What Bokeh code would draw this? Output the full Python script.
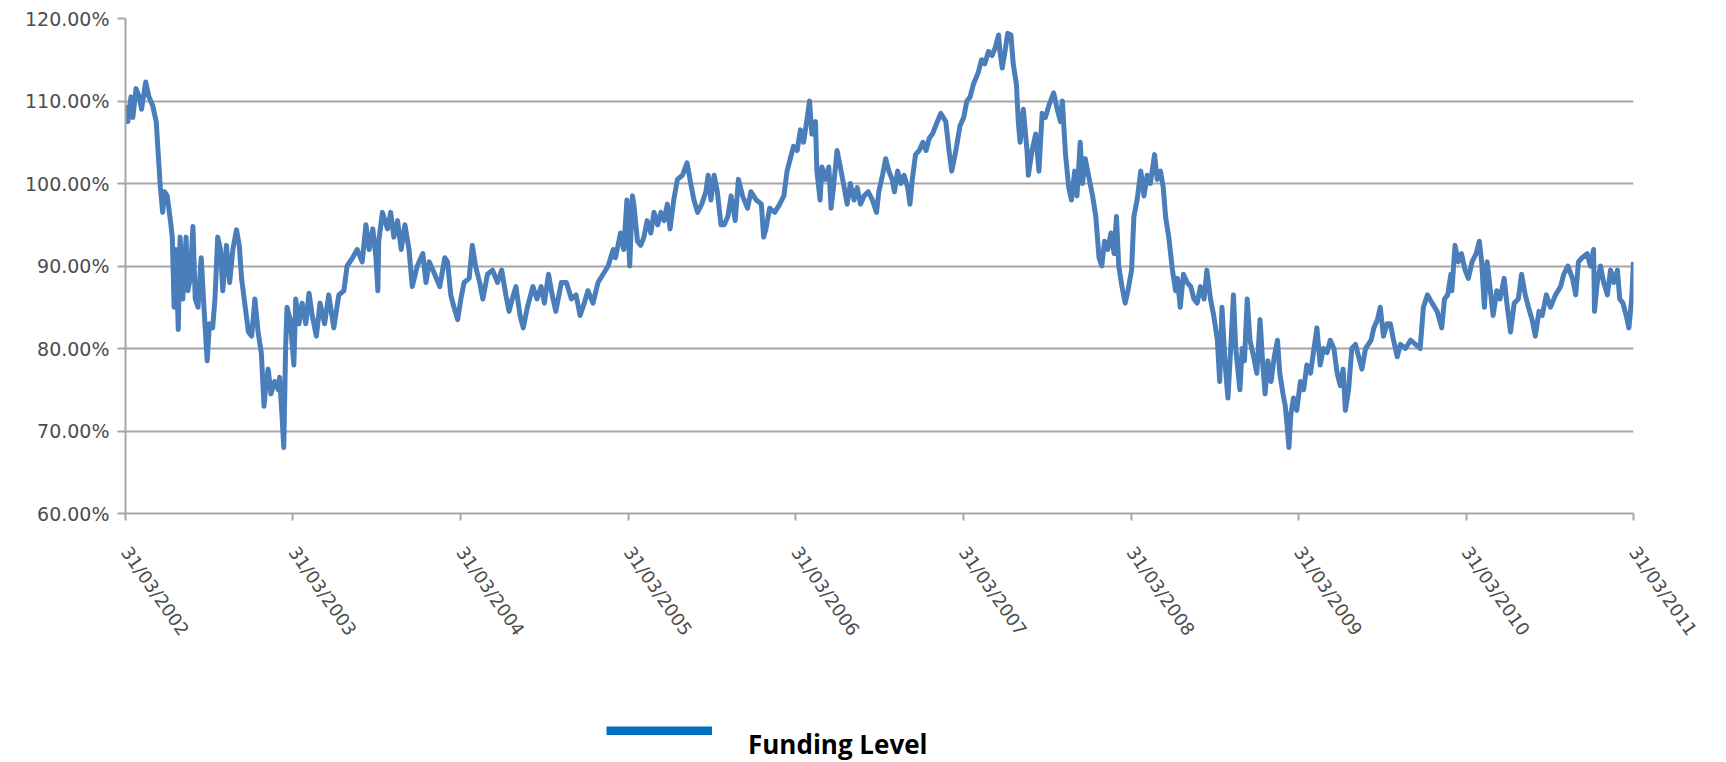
import pandas as pd
from bokeh.plotting import figure
from bokeh.layouts import column
from bokeh.models import (Range1d, FixedTicker, DatetimeTickFormatter, CustomJSTickFormatter,
                          Legend, LegendItem, ColumnDataSource)
from bokeh.embed import file_html
from bokeh.resources import INLINE

# ---- data ----
d2002 = ["2002-03-31","2002-04-05","2002-04-12","2002-04-16","2002-04-23","2002-04-30","2002-05-05","2002-05-14",
         "2002-05-21","2002-05-29","2002-06-06","2002-06-11","2002-06-15","2002-06-20","2002-06-24","2002-06-30",
         "2002-07-08","2002-07-11","2002-07-15","2002-07-19","2002-07-24","2002-07-28","2002-08-03","2002-08-10",
         "2002-08-14","2002-08-19","2002-08-25","2002-08-30","2002-09-05","2002-09-12","2002-09-18","2002-09-25",
         "2002-09-30","2002-10-07","2002-10-12","2002-10-18","2002-10-24","2002-10-29","2002-11-06","2002-11-13",
         "2002-11-20","2002-11-28","2002-12-04","2002-12-09","2002-12-17","2002-12-24","2002-12-31"]
v2002 = [109.5,107.5,110.5,108,111.5,110.5,109,112.3,
         110.5,109.5,107.5,103,99.5,96.5,99,98.5,
         95,93.5,85,92,82.3,93.5,86,93.5,
         87,88.5,94.8,86,85,91,85,78.5,
         83,82.5,86,93.5,92,87,92.5,88,
         92,94.4,92.5,88.5,85,82,81.5]

d2003 = ["2003-01-07","2003-01-14","2003-01-21","2003-01-27","2003-01-30","2003-02-05","2003-02-11","2003-02-19",
         "2003-02-27","2003-03-02","2003-03-07","2003-03-11","2003-03-15","2003-03-18","2003-03-25","2003-04-02",
         "2003-04-06","2003-04-13","2003-04-20","2003-04-28","2003-05-05","2003-05-12","2003-05-21","2003-05-29",
         "2003-06-08","2003-06-17","2003-06-28","2003-07-09","2003-07-20","2003-07-27","2003-08-08","2003-08-18",
         "2003-08-29","2003-09-06","2003-09-13","2003-09-21","2003-09-28","2003-10-02","2003-10-04","2003-10-12",
         "2003-10-23","2003-10-30","2003-11-06","2003-11-14","2003-11-22","2003-11-30","2003-12-09","2003-12-16",
         "2003-12-27"]
v2003 = [86,82,79.5,73,75,77.5,74.5,76,
         75,76.5,72,68,80,85,83.5,78,
         86,83,85.5,83,86.7,84,81.5,85.5,
         83,86.5,82.5,86.5,87,90,91,92,
         90.5,95,92,94.5,91,87,93,96.5,
         94.5,96.5,93.5,95.5,92,95,92,87.5,
         90]

d2004 = ["2004-01-08","2004-01-15","2004-01-22","2004-02-03","2004-02-14","2004-02-25","2004-03-02","2004-03-09",
         "2004-03-16","2004-03-24","2004-03-31","2004-04-07","2004-04-18","2004-04-25","2004-05-02","2004-05-11",
         "2004-05-18","2004-05-28","2004-06-08","2004-06-19","2004-06-28","2004-07-07","2004-07-14","2004-07-21",
         "2004-07-29","2004-08-07","2004-08-14","2004-08-23","2004-09-04","2004-09-13","2004-09-22","2004-09-29",
         "2004-10-08","2004-10-16","2004-10-24","2004-11-05","2004-11-16","2004-11-27","2004-12-07","2004-12-16",
         "2004-12-25"]
v2004 = [91.5,88,90.5,89,87.5,91,90.5,86.5,
         85,83.5,86,88,88.5,92.5,90,88,
         86,89,89.5,88,89.5,86.5,84.5,86,
         87.5,84,82.5,85,87.5,86,87.5,85.5,
         89,86.5,84.5,88,88,86,86.5,84,
         85.5]

d2005 = ["2005-01-02","2005-01-13","2005-01-24","2005-02-04","2005-02-15","2005-02-26","2005-03-03","2005-03-14",
         "2005-03-21","2005-03-28","2005-04-03","2005-04-09","2005-04-12","2005-04-20","2005-04-27","2005-05-04",
         "2005-05-11","2005-05-19","2005-05-26","2005-06-03","2005-06-10","2005-06-17","2005-06-24","2005-06-30",
         "2005-07-08","2005-07-16","2005-07-27","2005-08-06","2005-08-14","2005-08-21","2005-08-29","2005-09-07",
         "2005-09-16","2005-09-21","2005-09-27","2005-10-04","2005-10-11","2005-10-19","2005-10-26","2005-11-03",
         "2005-11-10","2005-11-19","2005-11-26","2005-12-05","2005-12-16","2005-12-23"]
v2005 = [87,85.5,88,89,90,92,91,94,
         92,98,90,98.5,97.5,93,92.5,93.5,
         95.5,94,96.5,95,96.5,95.5,97.5,94.5,
         98,100.5,101,102.5,100,98,96.5,97.5,
         99,101,98,101,99,95,95,96,
         98.5,95.5,100.5,98.5,97,99]

d2006 = ["2006-01-04","2006-01-15","2006-01-20","2006-01-25","2006-02-02","2006-02-13","2006-02-24","2006-03-05",
         "2006-03-12","2006-03-19","2006-03-26","2006-04-03","2006-04-10","2006-04-17","2006-04-25","2006-04-30",
         "2006-05-05","2006-05-13","2006-05-16","2006-05-23","2006-05-27","2006-06-04","2006-06-11","2006-06-16",
         "2006-06-22","2006-06-29","2006-07-06","2006-07-13","2006-07-21","2006-07-28","2006-08-05","2006-08-12",
         "2006-08-19","2006-08-27","2006-09-05","2006-09-14","2006-09-23","2006-09-28","2006-10-06","2006-10-13",
         "2006-10-20","2006-10-27","2006-11-01","2006-11-08","2006-11-15","2006-11-22","2006-11-30","2006-12-05",
         "2006-12-10","2006-12-17","2006-12-25"]
v2006 = [98,97.5,93.5,94.5,97,96.5,97.5,98.5,
         101.5,103,104.5,104,106.5,105,108,110,
         106,107.5,101.5,98,102,100.5,102,97,
         100,104,102,100,97.5,100,98,99.5,
         97.5,98.5,99,98,96.5,99,101,103,
         101.5,100.5,99,101.5,100,101,99.5,97.5,
         100.5,103.5,104]

d2007 = ["2007-01-02","2007-01-09","2007-01-16","2007-01-23","2007-01-30","2007-02-10","2007-02-21","2007-02-28",
         "2007-03-06","2007-03-15","2007-03-24","2007-04-01","2007-04-08","2007-04-15","2007-04-22","2007-05-03",
         "2007-05-10","2007-05-17","2007-05-25","2007-06-02","2007-06-09","2007-06-16","2007-06-19","2007-06-24",
         "2007-06-30","2007-07-06","2007-07-13","2007-07-18","2007-07-25","2007-07-29","2007-08-02","2007-08-09",
         "2007-08-17","2007-08-20","2007-08-28","2007-09-05","2007-09-12","2007-09-19","2007-09-26","2007-10-04",
         "2007-10-14","2007-10-22","2007-10-29","2007-11-02","2007-11-09","2007-11-16","2007-11-22","2007-11-29",
         "2007-12-04","2007-12-11","2007-12-16","2007-12-22","2007-12-29"]
v2007 = [105,104,105.5,106,107,108.5,107.5,104,
         101.5,104,107,108,110,110.5,112,113.5,
         115,114.5,116,115.5,116.5,118,116,114,
         116,118.2,118,114.5,112,107.5,105,109,
         104,101,104,106,101.5,108.5,108,109.5,
         111,109,107.5,110,103.5,99.5,98,101.5,
         98.5,105,100,103,101]

d2008 = ["2008-01-07","2008-01-14","2008-01-21","2008-01-27","2008-02-02","2008-02-09","2008-02-16","2008-02-23",
         "2008-02-28","2008-03-04","2008-03-11","2008-03-18","2008-03-24","2008-04-01","2008-04-06","2008-04-13",
         "2008-04-21","2008-04-28","2008-05-05","2008-05-12","2008-05-21","2008-05-27","2008-06-03","2008-06-09",
         "2008-06-14","2008-06-21","2008-06-29","2008-07-06","2008-07-10","2008-07-16","2008-07-23","2008-07-31",
         "2008-08-08","2008-08-15","2008-08-22","2008-08-29","2008-09-06","2008-09-12","2008-09-20","2008-09-27",
         "2008-10-05","2008-10-10","2008-10-15","2008-10-22","2008-10-28","2008-11-03","2008-11-09","2008-11-14",
         "2008-11-23","2008-11-28","2008-12-03","2008-12-09","2008-12-15","2008-12-23","2008-12-30"]
v2008 = [98.5,96,91,90,93,92,94,91.5,
         96,90,87.5,85.5,87,89.5,96,98,
         101.5,98.5,101,100,103.5,100.5,101.5,99.5,
         96,93.5,89.5,87,88.5,85,89,88,
         87.5,86,85.5,87.5,86,89.5,86,84,
         81,76,85,78,74,80,86.5,80,
         75,80,78.5,86,81,79,77]

d2009 = ["2009-01-06","2009-01-12","2009-01-17","2009-01-23","2009-01-30","2009-02-06","2009-02-13","2009-02-18",
         "2009-02-25","2009-03-02","2009-03-07","2009-03-10","2009-03-14","2009-03-20","2009-03-27","2009-04-04",
         "2009-04-11","2009-04-18","2009-04-26","2009-05-01","2009-05-10","2009-05-17","2009-05-24","2009-06-01",
         "2009-06-08","2009-06-16","2009-06-23","2009-06-30","2009-07-06","2009-07-11","2009-07-18","2009-07-25",
         "2009-08-02","2009-08-09","2009-08-16","2009-08-24","2009-09-05","2009-09-11","2009-09-19","2009-09-25",
         "2009-10-02","2009-10-10","2009-10-17","2009-10-24","2009-11-01","2009-11-08","2009-11-19","2009-11-30",
         "2009-12-11","2009-12-21","2009-12-28"]
v2009 = [83.5,78,74.5,78.5,76,79,81,77,
         74.5,73,70,68,72,74,72.5,76,
         75,78,77,79,82.5,78,80,79.5,
         81,80,77,75.5,77.5,72.5,75,80,
         80.5,79,77.5,80,81,82.5,83.5,85,
         81.5,83,83,81,79,80.5,80,81,
         80.5,80,85]

d2010 = ["2010-01-06","2010-01-16","2010-01-27","2010-02-06","2010-02-12","2010-02-19","2010-02-26","2010-02-28",
         "2010-03-07","2010-03-14","2010-03-21","2010-03-29","2010-04-05","2010-04-13","2010-04-22","2010-04-29",
         "2010-05-04","2010-05-10","2010-05-16","2010-05-22","2010-05-29","2010-06-06","2010-06-13","2010-06-22",
         "2010-06-29","2010-07-06","2010-07-14","2010-07-23","2010-07-30","2010-08-07","2010-08-14","2010-08-22",
         "2010-08-29","2010-09-06","2010-09-13","2010-09-22","2010-10-01","2010-10-12","2010-10-23","2010-10-30",
         "2010-11-08","2010-11-18","2010-11-25","2010-12-01","2010-12-09","2010-12-20","2010-12-27"]
v2010 = [86.5,85.5,84.5,82.5,86,86.5,89,87,
         92.5,90.5,91.5,89.5,88.5,90.5,91.5,93,
         90.5,85,90.5,87.5,84,87,86,88.5,
         85,82,85.5,86,89,86.5,85,83.5,
         81.5,84.5,84,86.5,85,86.5,87.5,89,
         90,88.5,86.5,90.5,91,91.5,90]

d2011 = ["2011-01-03","2011-01-05","2011-01-11","2011-01-18","2011-01-25","2011-02-02","2011-02-09","2011-02-16",
         "2011-02-24","2011-03-01","2011-03-08","2011-03-15","2011-03-21","2011-03-27","2011-03-31"]
v2011 = [92,84.5,88,90,88,86.5,89.5,88,
         89.5,86,85.5,84,82.5,86,90.5]

tick_dates = ["2002-03-31","2003-03-31","2004-03-31","2005-03-31","2006-03-31",
              "2007-03-31","2008-03-31","2009-03-31","2010-03-31","2011-03-31"]
y_ticks = [60, 70, 80, 90, 100, 110, 120]
series_name = "Funding Level"

dates = pd.to_datetime(d2002 + d2003 + d2004 + d2005 + d2006 + d2007 + d2008 + d2009 + d2010 + d2011)
values = v2002 + v2003 + v2004 + v2005 + v2006 + v2007 + v2008 + v2009 + v2010 + v2011
src = ColumnDataSource(data=dict(date=dates, value=values))

tick_ms = [pd.Timestamp(d).value / 1e6 for d in tick_dates]

GRID = "#A6A6A6"
TXT = "#4D4D4D"
FONT = "DejaVu Sans"

# ---- main chart ----
p = figure(width=1720, height=690, x_axis_type="datetime", output_backend="svg", toolbar_location=None,
           x_range=Range1d(tick_ms[0], tick_ms[-1]), y_range=Range1d(60, 120),
           min_border_left=125, min_border_right=87, min_border_top=18, min_border_bottom=177)
p.outline_line_color = None
p.background_fill_color = "white"
p.border_fill_color = "white"

p.line(x="date", y="value", source=src, line_color="#4A7EBB", line_width=5, line_join="round")

# x axis
p.xaxis.ticker = FixedTicker(ticks=tick_ms)
fmt = "%d/%m/%Y"
p.xaxis.formatter = DatetimeTickFormatter(microseconds=fmt, milliseconds=fmt, seconds=fmt, minsec=fmt,
                                          minutes=fmt, hourmin=fmt, hours=fmt, days=fmt, months=fmt, years=fmt)
p.xaxis.major_label_orientation = -0.96
p.xaxis.major_label_standoff = 28
p.xaxis.major_tick_out = 7
p.xaxis.major_tick_in = 0
p.xaxis.minor_tick_out = 0
p.xaxis.minor_tick_in = 0
p.xaxis.axis_line_color = GRID
p.xaxis.axis_line_width = 2
p.xaxis.major_tick_line_color = GRID
p.xaxis.major_tick_line_width = 2
p.xaxis.major_label_text_font = FONT
p.xaxis.major_label_text_font_size = "18px"
p.xaxis.major_label_text_color = TXT
p.xgrid.visible = False

# y axis
p.yaxis.ticker = FixedTicker(ticks=y_ticks)
p.yaxis.formatter = CustomJSTickFormatter(code="return tick.toFixed(2) + '%';")
p.yaxis.major_tick_out = 8
p.yaxis.major_tick_in = 0
p.yaxis.minor_tick_out = 0
p.yaxis.minor_tick_in = 0
p.yaxis.major_label_standoff = 8
p.yaxis.axis_line_color = GRID
p.yaxis.axis_line_width = 2
p.yaxis.major_tick_line_color = GRID
p.yaxis.major_tick_line_width = 2
p.yaxis.major_label_text_font = FONT
p.yaxis.major_label_text_font_size = "19px"
p.yaxis.major_label_text_color = TXT
p.ygrid.grid_line_color = GRID
p.ygrid.grid_line_width = 2

# ---- legend strip below the chart ----
q = figure(width=1720, height=72, output_backend="svg", toolbar_location=None,
           x_range=Range1d(0, 1), y_range=Range1d(0, 1),
           min_border=0, min_border_left=0, min_border_right=0, min_border_top=0, min_border_bottom=0)
q.axis.visible = False
q.grid.visible = False
q.outline_line_color = None
q.background_fill_color = "white"
q.border_fill_color = "white"
# swatch renderer: its points lie outside the visible range, only its legend glyph shows
swatch = q.line(x=[-5, -4], y=[-5, -5], line_color="#0070C0", line_width=9)
anchor = q.line(x=[-5, -4], y=[-5, -5], line_alpha=0)

common = dict(orientation="horizontal", padding=0, margin=0, border_line_color=None,
              background_fill_alpha=0)
# the swatch sits a little higher than its label, as in the original legend
swatch_legend = Legend(items=[LegendItem(label="", renderers=[swatch])], location=(481, 27),
                       glyph_width=106, glyph_height=9, label_height=9, label_standoff=0,
                       label_text_font_size="1px", **common)
label_legend = Legend(items=[LegendItem(label=series_name, renderers=[anchor])], location=(622, 0),
                      glyph_width=1, glyph_height=1, label_height=32, label_standoff=0,
                      label_text_font="Open Sans", label_text_font_size="26px",
                      label_text_font_style="bold", label_text_color="black", **common)
q.add_layout(swatch_legend)
q.add_layout(label_legend)

open("out.html", "w").write(file_html(column(p, q, spacing=0), INLINE))
